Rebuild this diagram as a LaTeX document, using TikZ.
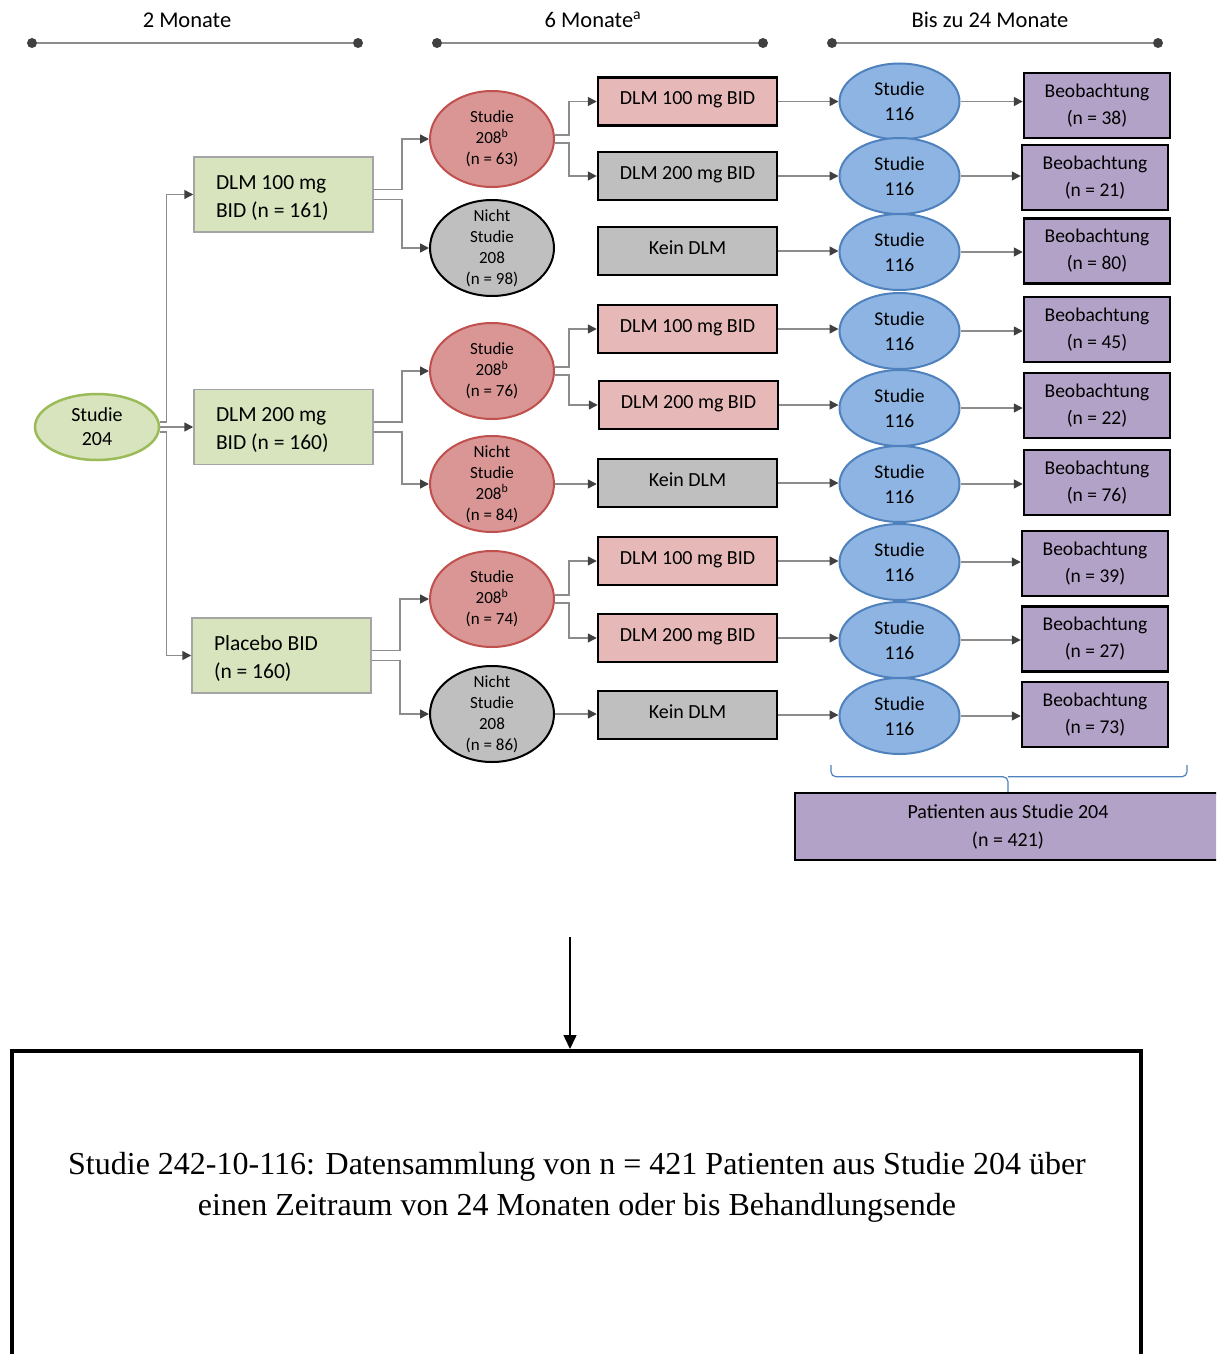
\documentclass[tikz,border=0pt]{standalone}
\usepackage{fontspec}
\setmainfont{Carlito}
\newfontfamily\timesfont{Liberation Serif}
\usepackage{xcolor}
\usetikzlibrary{arrows.meta,positioning,shapes.geometric,calc}

\definecolor{grpfill}{HTML}{D7E4BD}
\definecolor{grpdraw}{HTML}{9BBB59}
\definecolor{grpborder}{HTML}{A5A5A5}
\definecolor{redfill}{HTML}{D99694}
\definecolor{reddraw}{HTML}{C0504D}
\definecolor{pinkfill}{HTML}{E6B9B8}
\definecolor{boxgray}{HTML}{BFBFBF}
\definecolor{bluefill}{HTML}{8DB4E2}
\definecolor{bluedraw}{HTML}{4F81BD}
\definecolor{lilac}{HTML}{B3A2C7}
\definecolor{linegray}{HTML}{8C8C8C}
\definecolor{tipgray}{HTML}{404040}

\begin{document}
\begin{tikzpicture}[x=1pt, y=-1pt,
    grp/.style={draw=grpborder, line width=1.5pt, fill=grpfill, minimum width=179pt,
      minimum height=75pt, text width=135pt, inner xsep=22pt, align=flush left,
      text height=22pt, text depth=33pt, font=\fontsize{21.5}{28}\selectfont},
    ell/.style={ellipse, line width=2pt, minimum width=124pt, minimum height=96pt,
      inner xsep=0pt, inner ysep=-15pt, align=center, font=\fontsize{17}{21}\selectfont},
    red208/.style={ell, draw=reddraw, fill=redfill},
    gray208/.style={ell, draw=black, fill=boxgray},
    start/.style={ellipse, draw=grpdraw, line width=2.5pt, fill=grpfill, minimum width=124pt,
      minimum height=66pt, inner sep=0pt, align=center, font=\fontsize{20}{24}\selectfont},
    trt/.style={draw=black, line width=2.5pt, minimum width=179pt, minimum height=48pt,
      text height=14pt, text depth=8pt, font=\fontsize{20}{24}\selectfont},
    pinktrt/.style={trt, fill=pinkfill},
    graytrt/.style={trt, fill=boxgray},
    stud/.style={ellipse, draw=bluedraw, line width=2pt, fill=bluefill, minimum width=120pt,
      minimum height=76pt, inner sep=0pt, align=center, font=\fontsize{19.5}{25}\selectfont},
    obs/.style={draw=black, line width=2.5pt, fill=lilac, minimum width=146pt,
      minimum height=65pt, align=center, font=\fontsize{19.5}{27}\selectfont},
    tlabel/.style={font=\fontsize{22.5}{26}\selectfont},
    dot/.style={circle, fill=tipgray, inner sep=0pt, minimum size=10pt},
    tline/.style={draw=linegray, line width=1.5pt},
    arr/.style={draw=linegray, line width=1.5pt, -{Triangle[length=9pt, width=9pt, color=tipgray]}},
    brace/.style={draw=bluedraw, line width=1.2pt, rounded corners=5pt},
  ]
    \useasboundingbox (0,0) rectangle (1216,1354);
    \clip (0,0) rectangle (1216,1354);

    % Zeitachsen
    \node[tlabel] (lab1) at (187,20) {2 Monate};
    \node[tlabel] (lab2) at (593,20) {6 Monate\textsuperscript{a}};
    \node[tlabel] (lab3) at (990,20) {Bis zu 24 Monate};
    \node[dot] (d1a) at (32,43) {};
    \node[dot] (d1b) at (358,43) {};
    \node[dot] (d2a) at (437,43) {};
    \node[dot] (d2b) at (763,43) {};
    \node[dot] (d3a) at (832,43) {};
    \node[dot] (d3b) at (1158,43) {};
    \draw[tline] (d1a) -- (d1b);
    \draw[tline] (d2a) -- (d2b);
    \draw[tline] (d3a) -- (d3b);

    % Studie 204 und Gruppen
    \node[start] (s204) at (97,427) {Studie\\204};
    \node[grp] (g1) at (283.5,194.5) {DLM 100 mg\\BID (n = 161)};
    \node[grp] (g2) at (283.5,427) {DLM 200 mg\\BID (n = 160)};
    \node[grp] (g3) at (281.5,655.5) {Placebo BID\\(n = 160)};

    % Studie 208
    \node[red208] (e1) at (492,139) {Studie\\208\textsuperscript{b}\\(n = 63)};
    \node[gray208] (e2) at (492,248) {Nicht\\Studie\\208\\(n = 98)};
    \node[red208] (e3) at (492,371) {Studie\\208\textsuperscript{b}\\(n = 76)};
    \node[red208] (e4) at (492,484) {Nicht\\Studie\\208\textsuperscript{b}\\(n = 84)};
    \node[red208] (e5) at (492,599) {Studie\\208\textsuperscript{b}\\(n = 74)};
    \node[gray208] (e6) at (492,714) {Nicht\\Studie\\208\\(n = 86)};

    % Behandlung
    \node[pinktrt] (t1) at (687.5,101.5) {DLM 100 mg BID};
    \node[graytrt] (t2) at (687.5,176) {DLM 200 mg BID};
    \node[graytrt] (t3) at (687.5,251) {Kein DLM};
    \node[pinktrt] (t4) at (687.5,329) {DLM 100 mg BID};
    \node[pinktrt] (t5) at (688.5,405) {DLM 200 mg BID};
    \node[graytrt] (t6) at (687.5,483) {Kein DLM};
    \node[pinktrt] (t7) at (687.5,561) {DLM 100 mg BID};
    \node[pinktrt] (t8) at (687.5,638) {DLM 200 mg BID};
    \node[graytrt] (t9) at (687.5,715) {Kein DLM};

    % Studie 116
    \node[stud] (u1) at (899.5,101.5) {Studie\\116};
    \node[stud] (u2) at (899.5,176) {Studie\\116};
    \node[stud] (u3) at (899.5,252) {Studie\\116};
    \node[stud] (u4) at (899.5,331) {Studie\\116};
    \node[stud] (u5) at (899.5,408) {Studie\\116};
    \node[stud] (u6) at (899.5,484) {Studie\\116};
    \node[stud] (u7) at (899.5,562) {Studie\\116};
    \node[stud] (u8) at (899.5,640) {Studie\\116};
    \node[stud] (u9) at (899.5,716) {Studie\\116};

    % Beobachtung
    \node[obs] (b1) at (1097,105.5) {Beobachtung\\(n = 38)};
    \node[obs] (b2) at (1095,177.5) {Beobachtung\\(n = 21)};
    \node[obs] (b3) at (1097,251) {Beobachtung\\(n = 80)};
    \node[obs] (b4) at (1097,329.5) {Beobachtung\\(n = 45)};
    \node[obs] (b5) at (1097,405.5) {Beobachtung\\(n = 22)};
    \node[obs] (b6) at (1097,482.5) {Beobachtung\\(n = 76)};
    \node[obs] (b7) at (1095,563.5) {Beobachtung\\(n = 39)};
    \node[obs] (b8) at (1095,639) {Beobachtung\\(n = 27)};
    \node[obs] (b9) at (1095,714.5) {Beobachtung\\(n = 73)};

    % Patienten aus Studie 204
    \node[obs, minimum width=426pt, minimum height=67pt, font=\fontsize{20}{28}\selectfont]
      (pat) at (1008,826.5) {Patienten aus Studie 204\\(n = 421)};
    \coordinate (brl) at (831,765);
    \coordinate (brr) at (1187,765);
    \draw[brace] (brl) |- ($(pat.north)+(0,-15)$) -- (pat.north);
    \draw[brace] (brr) |- ($(pat.north)+(0,-15)$);

    % Studie 242-10-116
    \node[draw=black, line width=4pt, minimum width=1129pt, minimum height=360pt,
      anchor=north] (big) at (576.5,1049) {};
    \node[font=\timesfont\fontsize{32}{41}\selectfont, align=center] (bigtext) at (577,1187)
      {Studie 242-10-116: Datensammlung von n = 421 Patienten aus Studie 204 über\\
       einen Zeitraum von 24 Monaten oder bis Behandlungsende};
    \coordinate (down) at (570,937);
    \draw[line width=1.5pt, -{Triangle[length=14pt, width=13pt]}] (down) -- (down |- big.north);

    % Pfeile
    \draw[arr] (s204) -- (g2);
    \draw[arr] ([yshift=5pt]s204.east) -- ++(6,0) |- (g1.west);
    \draw[arr] ([yshift=-5pt]s204.east) -- ++(6,0) |- (g3.west);
    \draw[arr] ([yshift=5pt]g1.east) -- ++(28,0) |- (e1.west);
    \draw[arr] ([yshift=-5pt]g1.east) -- ++(28,0) |- (e2.west);
    \draw[arr] ([yshift=5pt]g2.east) -- ++(28,0) |- (e3.west);
    \draw[arr] ([yshift=-5pt]g2.east) -- ++(28,0) |- (e4.west);
    \draw[arr] ([yshift=5pt]g3.east) -- ++(28,0) |- (e5.west);
    \draw[arr] ([yshift=-5pt]g3.east) -- ++(28,0) |- (e6.west);
    \draw[arr] ([yshift=4pt]e1.east) -- ++(14,0) |- (t1.west);
    \draw[arr] ([yshift=-4pt]e1.east) -- ++(14,0) |- (t2.west);
    \draw[arr] ([yshift=4pt]e3.east) -- ++(14,0) |- (t4.west);
    \draw[arr] ([yshift=-4pt]e3.east) -- ++(14,0) |- (t5.west);
    \draw[arr] (e4) -- (e4 -| t6.west);
    \draw[arr] ([yshift=4pt]e5.east) -- ++(14,0) |- (t7.west);
    \draw[arr] ([yshift=-4pt]e5.east) -- ++(14,0) |- (t8.west);
    \draw[arr] (e6) -- (e6 -| t9.west);
    \draw[arr] (t1) -- (t1 -| u1.west);
    \draw[arr] (t2) -- (t2 -| u2.west);
    \draw[arr] (t3) -- (t3 -| u3.west);
    \draw[arr] (t4) -- (t4 -| u4.west);
    \draw[arr] (t5) -- (t5 -| u5.west);
    \draw[arr] (t6) -- (t6 -| u6.west);
    \draw[arr] (t7) -- (t7 -| u7.west);
    \draw[arr] (t8) -- (t8 -| u8.west);
    \draw[arr] (t9) -- (t9 -| u9.west);
    \draw[arr] (u1) -- (u1 -| b1.west);
    \draw[arr] (u2) -- (u2 -| b2.west);
    \draw[arr] (u3) -- (u3 -| b3.west);
    \draw[arr] (u4) -- (u4 -| b4.west);
    \draw[arr] (u5) -- (u5 -| b5.west);
    \draw[arr] (u6) -- (u6 -| b6.west);
    \draw[arr] (u7) -- (u7 -| b7.west);
    \draw[arr] (u8) -- (u8 -| b8.west);
    \draw[arr] (u9) -- (u9 -| b9.west);
  \end{tikzpicture}
\end{document}
